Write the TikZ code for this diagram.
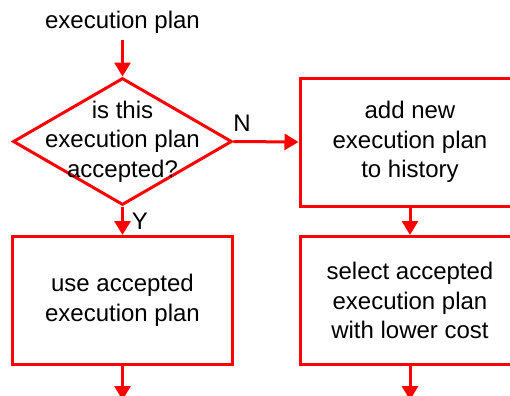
\documentclass[tikz,border=0pt]{standalone}
\usepackage{fontspec}
\setmainfont{Liberation Sans}
\usetikzlibrary{shapes.geometric, arrows.meta, positioning}

\begin{document}
\begin{tikzpicture}[x=0.5pt, y=-0.5pt, line width=1.5pt,
    font=\fontsize{12pt}{14.75pt}\selectfont,
    flow/.style={draw=red, -{Triangle[length=7pt, width=8pt]}},
    stepbox/.style={rectangle, draw=red, minimum width=110pt, minimum height=64pt, inner sep=0pt, align=center},
    decision/.style={diamond, draw=red, minimum width=109.5pt, minimum height=63.5pt, inner sep=0pt}]
    \useasboundingbox (0,0) rectangle (510,396);

    % Input plan
    \node (plan) at (122.5,22) {execution plan};
    \coordinate (planend) at (122.5,40);

    % Decision
    \node[decision] (check) at (122.5,141.5) {};
    \node[align=center] (checktext) at (check) {is this\\execution plan\\accepted?};

    % Process boxes
    \node[stepbox] (use) at (122.5,300.5) {use accepted\\execution plan};
    \node[stepbox] (hist) at (410,142) {add new\\execution plan\\to history};
    \node[stepbox] (select) at (410,300.5) {select accepted\\execution plan\\with lower cost};

    % Outputs
    \coordinate (useout) at (122.5,400);
    \coordinate (selectout) at (410,400);

    % Connectors
    \draw[flow] (planend) -- (check.north);
    \draw[flow] (check.east) -- (hist.west);
    \draw[flow] (check.south) -- (use.north);
    \draw[flow] (hist.south) -- (select.north);
    \draw[flow] (use.south) -- (useout);
    \draw[flow] (select.south) -- (selectout);

    % Branch labels
    \node (no) at (242,123) {N};
    \node (yes) at (140,221) {Y};
\end{tikzpicture}
\end{document}
